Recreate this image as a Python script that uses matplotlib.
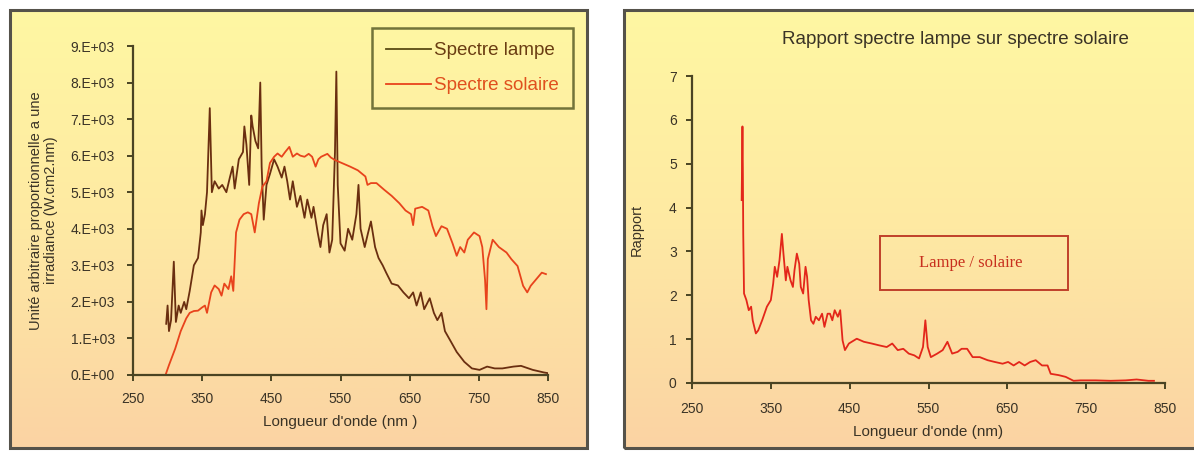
import numpy as np
import matplotlib
matplotlib.use("Agg")
import matplotlib.pyplot as plt
from matplotlib.colors import LinearSegmentedColormap
from matplotlib.patches import Rectangle

# ---- data -------------------------------------------------------------
lamp_wl = [298, 300, 302, 305, 309, 312, 316, 319, 324, 327, 332, 338, 344, 348,
           349, 351, 354, 357, 361, 364, 368, 374, 379, 385, 390, 394, 397, 403,
           409, 411, 414, 418, 421, 423, 427, 431, 434, 436, 439, 443, 448, 454,
           459, 465, 469, 473, 477, 481, 487, 492, 498, 502, 508, 511, 517, 521,
           525, 530, 534, 538, 542, 544, 546, 550, 556, 561, 567, 573, 576, 579,
           585, 590, 594, 600, 605, 611, 616, 624, 633, 641, 649, 655, 660, 666,
           671, 679, 685, 690, 696, 701, 710, 718, 729, 740, 751, 762, 773, 784,
           800, 811, 828, 844, 850]
lamp_val = [1.4, 1.9, 1.2, 1.5, 3.1, 1.45, 1.9, 1.7, 2.0, 1.8, 2.3, 3.0, 3.2, 3.9,
            4.5, 4.1, 4.4, 5.0, 7.3, 5.0, 5.3, 5.1, 5.2, 5.0, 5.4, 5.7, 5.1, 5.9,
            6.1, 6.8, 6.3, 5.2, 7.1, 6.8, 6.4, 6.2, 8.0, 5.7, 4.25, 5.2, 5.5, 5.9,
            5.7, 5.4, 5.7, 5.3, 4.8, 5.3, 4.6, 4.9, 4.3, 4.8, 4.3, 4.6, 3.9, 3.5,
            4.1, 4.4, 3.35, 3.7, 6.1, 8.3, 5.2, 3.6, 3.4, 4.0, 3.7, 4.4, 5.2, 4.0,
            3.5, 3.9, 4.2, 3.5, 3.2, 3.0, 2.8, 2.5, 2.45, 2.26, 2.1, 2.26, 1.9, 2.26,
            1.8, 2.1, 1.7, 1.5, 1.7, 1.2, 0.9, 0.63, 0.36, 0.18, 0.14, 0.23, 0.18, 0.18,
            0.23, 0.25, 0.14, 0.07, 0.05]

sun_wl = [297, 302, 311, 319, 327, 332, 338, 344, 350, 354, 357, 363, 368, 374,
          378, 382, 388, 392, 395, 399, 404, 410, 416, 421, 426, 432, 437, 443,
          448, 454, 459, 465, 470, 476, 481, 487, 492, 498, 504, 509, 514, 518,
          522, 531, 536, 542, 553, 564, 575, 586, 589, 594, 602, 613, 624, 635,
          644, 652, 655, 658, 668, 677, 683, 688, 696, 704, 712, 718, 723, 729,
          734, 743, 751, 755, 759, 761, 763, 770, 779, 790, 797, 806, 814, 820,
          825, 833, 841, 847]
sun_val = [0.0, 0.27, 0.72, 1.2, 1.55, 1.7, 1.75, 1.76, 1.85, 1.9, 1.7, 2.26, 2.45, 2.35,
           2.17, 2.5, 2.35, 2.7, 2.3, 3.9, 4.25, 4.4, 4.45, 4.4, 3.9, 4.7, 5.15, 5.3,
           5.8, 5.97, 6.06, 5.97, 6.1, 6.24, 5.97, 6.06, 6.0, 5.97, 6.05, 5.97, 5.7, 5.9,
           5.97, 6.05, 5.95, 5.88, 5.79, 5.7, 5.6, 5.43, 5.2, 5.25, 5.25, 5.07, 4.9, 4.7,
           4.5, 4.4, 4.1, 4.55, 4.6, 4.5, 4.07, 3.8, 4.07, 4.0, 3.6, 3.26, 3.5, 3.35,
           3.7, 3.9, 3.8, 3.5, 2.6, 1.8, 3.17, 3.7, 3.5, 3.35, 3.17, 2.98, 2.44, 2.26,
           2.44, 2.62, 2.8, 2.76]

ratio_wl = [313, 314, 314.5, 315, 316, 319, 322, 325, 327, 331, 334, 339, 345, 350,
            353, 355, 358, 361, 364, 366, 369, 371, 375, 378, 380, 383, 386, 388,
            391, 394, 396, 398, 401, 404, 407, 411, 415, 418, 422, 425, 428, 431,
            435, 438, 441, 444, 449, 459, 468, 478, 487, 497, 504, 511, 518, 525,
            532, 538, 543, 546, 549, 553, 561, 568, 574, 580, 587, 592, 599, 606,
            615, 625, 634, 644, 651, 658, 665, 672, 679, 686, 694, 701, 705, 715,
            724, 734, 743, 762, 781, 800, 814, 829, 836]
ratio_val = [4.17, 5.85, 4.9, 3.4, 2.04, 1.89, 1.66, 1.74, 1.43, 1.13, 1.2, 1.43, 1.74, 1.89,
             2.27, 2.65, 2.42, 2.8, 3.4, 2.95, 2.34, 2.65, 2.34, 2.19, 2.57, 2.95, 2.72, 2.19,
             2.04, 2.65, 2.42, 1.89, 1.43, 1.35, 1.51, 1.43, 1.58, 1.28, 1.58, 1.58, 1.43, 1.66,
             1.51, 1.66, 0.97, 0.75, 0.9, 1.01, 0.94, 0.9, 0.86, 0.82, 0.9, 0.75, 0.78, 0.67,
             0.63, 0.56, 0.82, 1.43, 0.82, 0.59, 0.67, 0.75, 0.94, 0.67, 0.71, 0.78, 0.78, 0.59,
             0.59, 0.52, 0.48, 0.44, 0.48, 0.40, 0.48, 0.40, 0.48, 0.52, 0.40, 0.40, 0.21, 0.18,
             0.14, 0.05, 0.06, 0.06, 0.05, 0.06, 0.08, 0.05, 0.05]

x_ticks = [250, 350, 450, 550, 650, 750, 850]
left_yticks = list(range(0, 9001, 1000))
left_ylabels = ["0.E+00"] + [f"{k}.E+03" for k in range(1, 10)]
right_yticks = list(range(0, 8))

# ---- styling ----------------------------------------------------------
W, H = 1194, 451
fig = plt.figure(figsize=(W / 100, H / 100), dpi=100)
fig.patch.set_facecolor("white")
plt.rcParams["font.family"] = ["Liberation Sans", "DejaVu Sans"]

axis_col = "#4a4423"
text_col = "#3a3326"
lamp_col = "#6a2e10"
sun_col = "#e8431c"
ratio_col = "#e3261a"

grad = LinearSegmentedColormap.from_list(
    "panel", ["#fff7a2", "#fee9a3", "#fbd3a3"])


def px_box(x0, y0, x1, y1):
    """Figure-fraction rectangle from pixel edges (origin top-left)."""
    return [x0 / W, 1 - y1 / H, (x1 - x0) / W, (y1 - y0) / H]


def panel(x0, y0, x1, y1):
    bg = fig.add_axes(px_box(x0, y0, x1, y1), zorder=0)
    bg.imshow(np.linspace(0, 1, 256)[:, None], aspect="auto", cmap=grad,
              extent=[0, 1, 0, 1], origin="upper")
    bg.set_axis_off()
    bg.add_patch(Rectangle((0, 0), 1, 1, transform=bg.transAxes, fill=False,
                           edgecolor="#55524a", lw=2.2, clip_on=False))


def style_axes(ax):
    ax.set_facecolor("none")
    for s in ("top", "right"):
        ax.spines[s].set_visible(False)
    for s in ("left", "bottom"):
        ax.spines[s].set_color(axis_col)
        ax.spines[s].set_linewidth(1.6)
    ax.tick_params(direction="out", length=4, width=1.4, color=axis_col,
                   labelcolor=text_col, labelsize=10)


panel(10, 10, 587, 448)
panel(624, 10, 1200, 448)

# ---- left: lamp and solar spectra ------------------------------------
ax1 = fig.add_axes(px_box(133, 46, 548, 375), zorder=2)
style_axes(ax1)
ax1.plot(lamp_wl, np.array(lamp_val) * 1000, color=lamp_col, lw=1.3,
         label="Spectre lampe")
ax1.plot(sun_wl, np.array(sun_val) * 1000, color=sun_col, lw=1.3,
         label="Spectre solaire")
ax1.set_xlim(250, 850)
ax1.set_ylim(0, 9000)
ax1.set_xticks(x_ticks)
ax1.set_yticks(left_yticks)
ax1.set_yticklabels(left_ylabels)
ax1.tick_params(axis="x", pad=8)
ax1.tick_params(axis="y", pad=9)
ax1.set_xlabel("Longueur d'onde (nm )", fontsize=11, color=text_col, labelpad=7)
ax1.set_ylabel("Unité arbitraire proportionnelle a une\nirradiance (W.cm2.nm)",
               fontsize=10.5, color=text_col, labelpad=9, linespacing=1.1)

leg = ax1.legend(loc="upper right", bbox_to_anchor=(573 / W, 1 - 28 / H),
                 bbox_transform=fig.transFigure, fontsize=13.5, frameon=True,
                 fancybox=False, handlelength=2.4, handletextpad=0.15,
                 labelspacing=0.95, borderpad=0.75, borderaxespad=0)
leg.get_frame().set_edgecolor("#4f5420")
leg.get_frame().set_linewidth(1.8)
leg.get_frame().set_facecolor("none")
leg.get_texts()[0].set_color("#6a3d12")
leg.get_texts()[1].set_color("#e0501e")
leg.legend_handles[0].set_color("#5a4a14")

# ---- right: lamp / solar ratio ---------------------------------------
ax2 = fig.add_axes(px_box(692, 76, 1165, 383), zorder=2)
style_axes(ax2)
ax2.plot(ratio_wl, ratio_val, color=ratio_col, lw=1.3)
ax2.set_xlim(250, 850)
ax2.set_ylim(0, 7)
ax2.set_xticks(x_ticks)
ax2.set_yticks(right_yticks)
ax2.tick_params(axis="x", pad=10)
ax2.tick_params(axis="y", pad=7)
ax2.set_xlabel("Longueur d'onde (nm)", fontsize=11, color=text_col, labelpad=6)
ax2.set_ylabel("Rapport", fontsize=10.5, color=text_col, labelpad=18)
fig.text(955 / W, 1 - 40 / H, "Rapport spectre lampe sur spectre solaire",
         fontsize=13.5, color=text_col, ha="center", va="center")

ax2.add_patch(Rectangle((488, 2.12), 239, 1.23, fill=False,
                        edgecolor="#c0402a", lw=1.4, zorder=3))
ax2.text(604, 2.74, "Lampe / solaire", ha="center", va="center",
         fontsize=12, color="#c8301e",
         family=["Liberation Serif", "DejaVu Serif"])

fig.savefig("out.png", dpi=100)
